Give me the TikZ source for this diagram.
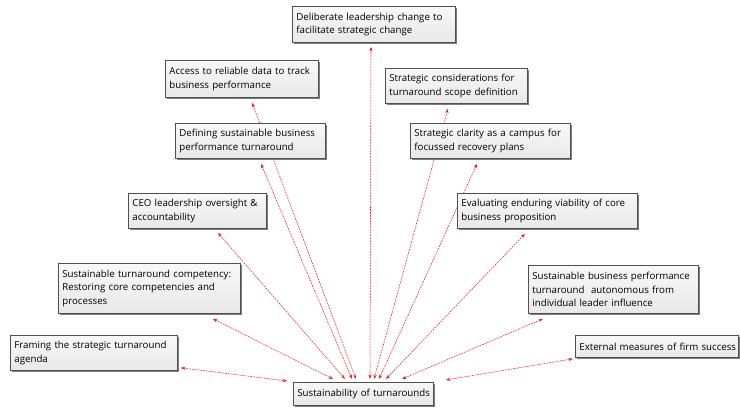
\documentclass[tikz,border=0pt]{standalone}
\usepackage{fontspec}
\setmainfont{Open Sans}
\usetikzlibrary{shadows,arrows.meta,calc,backgrounds}
\definecolor{boxedge}{HTML}{505050}
\definecolor{boxtop}{HTML}{F8F8F8}
\definecolor{boxbot}{HTML}{E8E8E8}
\definecolor{linkred}{HTML}{E8202A}
\hfuzz=20pt
\hyphenpenalty=10000
\exhyphenpenalty=10000
\tikzset{
  card/.style={draw=boxedge, line width=0.8pt, top color=boxtop, bottom color=boxbot,
    anchor=north west, inner xsep=4pt, inner ysep=2pt, align=left,
    font=\fontsize{9.7}{13.5}\selectfont,
    drop shadow={shadow xshift=1.8pt, shadow yshift=-1.8pt, fill=black!60, opacity=0.85}},
  link/.style={draw=linkred, line width=0.55pt, dash pattern=on 1.8pt off 1pt,
    {Stealth[length=4.5pt,width=3.2pt]}-{Stealth[length=4.5pt,width=3.2pt]}},
}
\begin{document}
\begin{tikzpicture}[x=1pt,y=-1pt]
\useasboundingbox (0,0) rectangle (740,409);

% outer factors
\node[card, text width=155pt, minimum height=36pt] (delib) at (292,6)
  {Deliberate leadership change to\\facilitate strategic change};
\node[card, text width=145pt, minimum height=37pt] (access) at (165,60)
  {Access to reliable data to track\\business performance};
\node[card, text width=134pt, minimum height=35pt] (consid) at (385,68)
  {Strategic considerations for\\turnaround scope definition};
\node[card, text width=142pt, minimum height=35pt] (defining) at (175,123)
  {Defining sustainable business\\performance turnaround};
\node[card, text width=152pt, minimum height=35pt] (clarity) at (410,123)
  {Strategic clarity as a campus for\\focussed recovery plans};
\node[card, text width=130pt, minimum height=35pt] (ceo) at (128,193)
  {CEO leadership oversight \&\\accountability};
\node[card, text width=172pt, minimum height=35pt] (eval) at (457,193)
  {Evaluating enduring viability of core\\business proposition};
\node[card, text width=174pt, minimum height=50pt] (compet) at (58,263)
  {Sustainable turnaround competency:\\Restoring core competencies and\\processes};
\node[card, text width=162pt, minimum height=48pt] (sustperf) at (528,265)
  {Sustainable business performance\\turnaround\ \ autonomous from\\individual leader influence};
\node[card, text width=159pt, minimum height=35pt] (framing) at (10,335)
  {Framing the strategic turnaround\\agenda};
\node[card, text width=155pt, minimum height=22pt] (external) at (575,335)
  {\mbox{External measures of firm success}};

% central outcome
\node[card, text width=132pt, minimum height=23pt] (central) at (293,382)
  {\mbox{Sustainability of turnarounds}};

% two-headed links, drawn behind the boxes
\begin{scope}[on background layer]
\draw[link] ($(framing.south east)+(3,-3)$)   -- ($(central.north west)+(-6,-1)$);
\draw[link] ($(compet.south east)+(-28,5)$)   -- ($(central.north west)+(40,-3)$);
\draw[link] ($(ceo.south west)+(90,4)$)       -- ($(central.north west)+(52,-3)$);
\draw[link] ($(defining.south west)+(86,5)$)  -- ($(central.north west)+(59,-3)$);
\draw[link] ($(access.south west)+(87,5)$)    -- ($(central.north west)+(63,-3)$);
\draw[link] ($(delib.south west)+(79,4)$)     -- ($(central.north west)+(77,-3)$);
\draw[link] ($(consid.south west)+(63,5)$)    -- ($(central.north west)+(81,-3)$);
\draw[link] ($(clarity.south west)+(67,5)$)   -- ($(central.north west)+(86,-3)$);
\draw[link] ($(eval.south west)+(68,5)$)      -- ($(central.north west)+(93,-3)$);
\draw[link] ($(sustperf.south west)+(15,5)$)  -- ($(central.north west)+(109,-3)$);
\draw[link] ($(external.south west)+(-2,1)$)  -- ($(central.north east)+(12,-2)$);
\end{scope}
\end{tikzpicture}
\end{document}
